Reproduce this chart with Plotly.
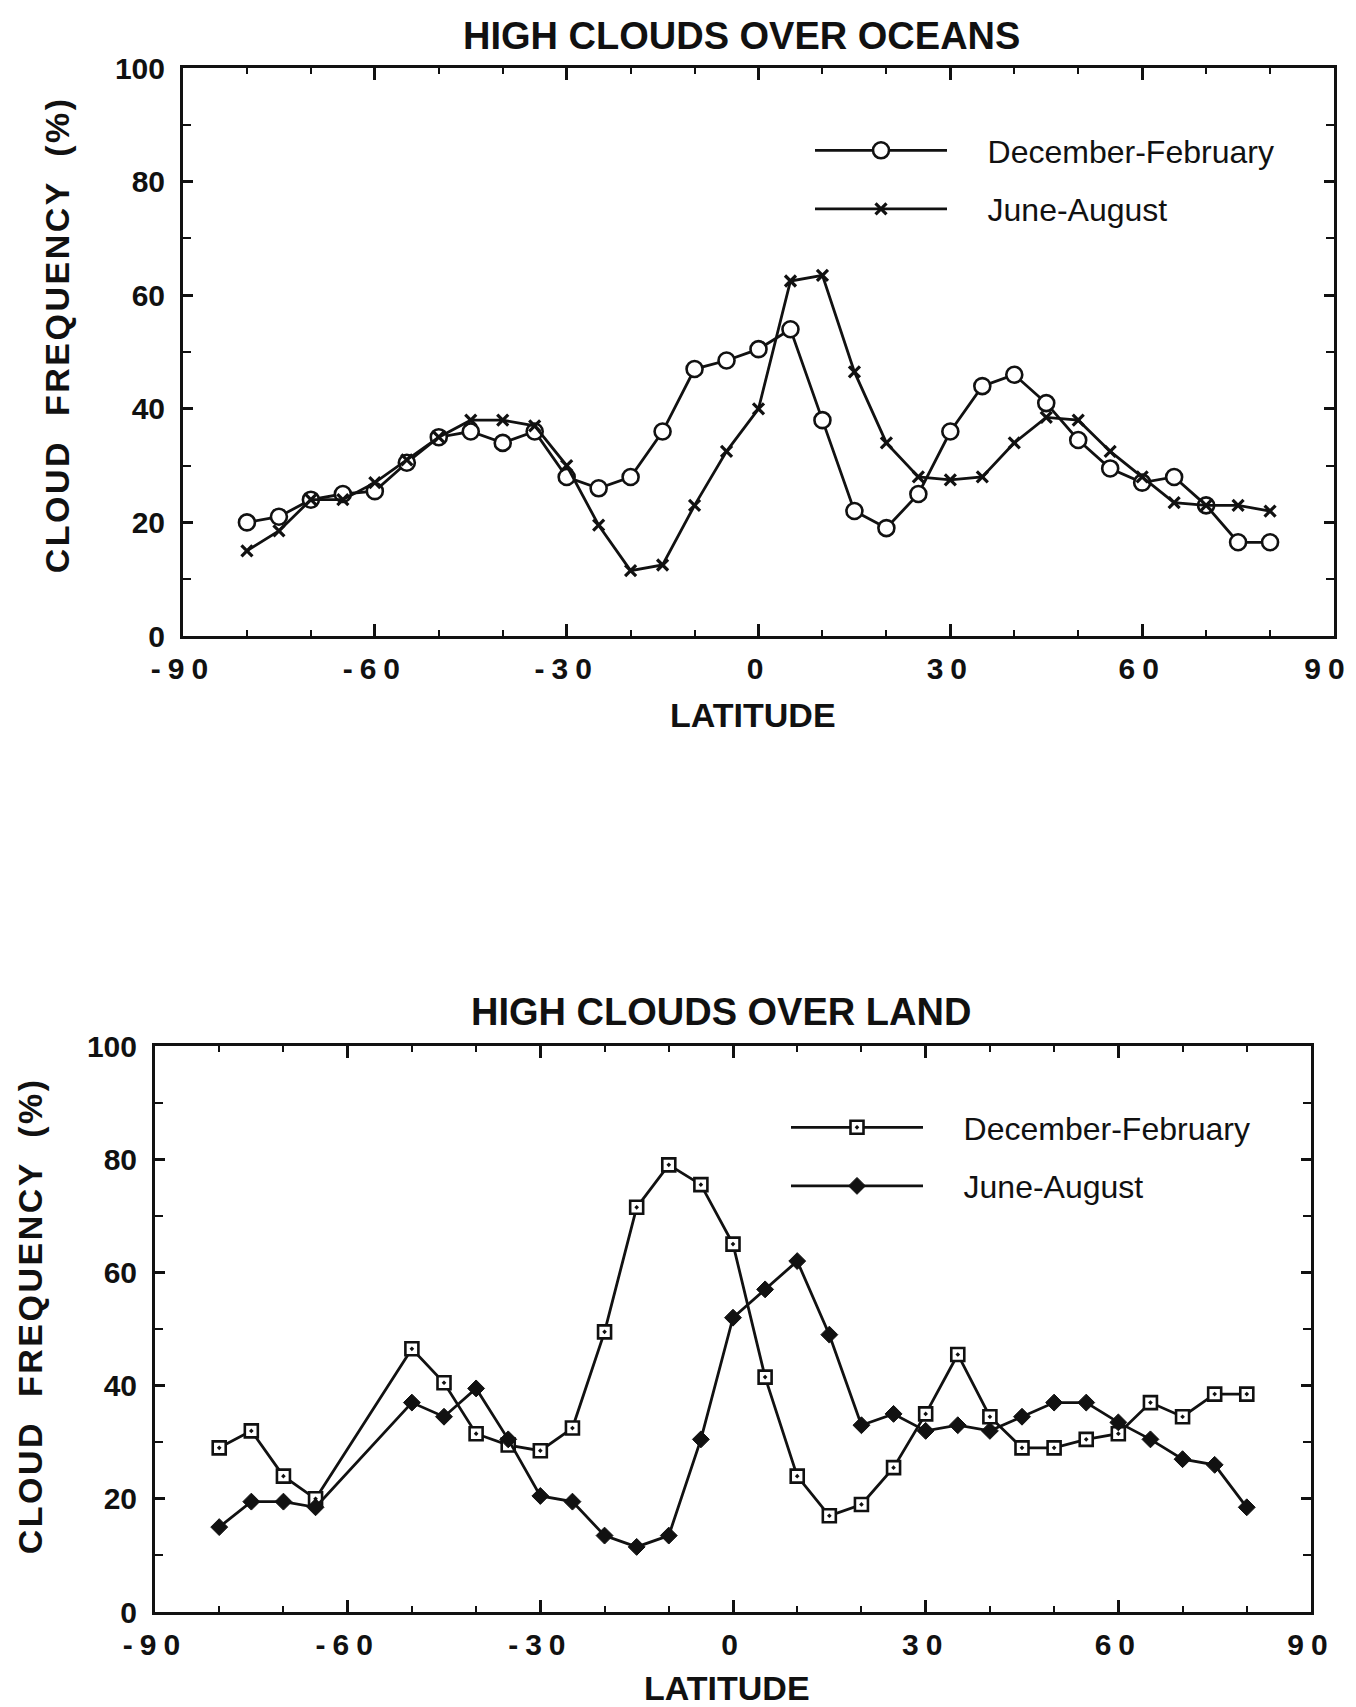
import plotly.graph_objects as go

# Latitude bands (degrees)
lat_ocean = [-80, -75, -70, -65, -60, -55, -50, -45, -40, -35, -30, -25, -20, -15, -10, -5,
             0, 5, 10, 15, 20, 25, 30, 35, 40, 45, 50, 55, 60, 65, 70, 75, 80]
lat_land = [-80, -75, -70, -65, -50, -45, -40, -35, -30, -25, -20, -15, -10, -5,
            0, 5, 10, 15, 20, 25, 30, 35, 40, 45, 50, 55, 60, 65, 70, 75, 80]

# High cloud frequency (%) over oceans
ocean_djf = [20, 21, 24, 25, 25.5, 30.5, 35, 36, 34, 36, 28, 26, 28, 36, 47, 48.5,
             50.5, 54, 38, 22, 19, 25, 36, 44, 46, 41, 34.5, 29.5, 27, 28, 23, 16.5, 16.5]
ocean_jja = [15, 18.5, 24, 24, 27, 31, 35, 38, 38, 37, 30, 19.5, 11.5, 12.5, 23, 32.5,
             40, 62.5, 63.5, 46.5, 34, 28, 27.5, 28, 34, 38.5, 38, 32.5, 28, 23.5, 23, 23, 22]

# High cloud frequency (%) over land
land_djf = [29, 32, 24, 20, 46.5, 40.5, 31.5, 29.5, 28.5, 32.5, 49.5, 71.5, 79, 75.5,
            65, 41.5, 24, 17, 19, 25.5, 35, 45.5, 34.5, 29, 29, 30.5, 31.5, 37, 34.5, 38.5, 38.5]
land_jja = [15, 19.5, 19.5, 18.5, 37, 34.5, 39.5, 30.5, 20.5, 19.5, 13.5, 11.5, 13.5, 30.5,
            52, 57, 62, 49, 33, 35, 32, 33, 32, 34.5, 37, 37, 33.5, 30.5, 27, 26, 18.5]

season_names = ["December-February", "June-August"]
x_ticks = [-90, -60, -30, 0, 30, 60, 90]
x_tick_text = ["-90", "-60", "-30", "0", "30", "60", "90"]
y_ticks = [0, 20, 40, 60, 80, 100]

W, H = 1356, 1707
INK = "#111111"
FONT = "Liberation Sans, Arial, Helvetica, sans-serif"


def px(x):
    return x / W


def py(y):
    return 1 - y / H


# legend labels sit a little away from their sample lines
LEGEND_PAD = "\u00a0" * 4

line_style = dict(color=INK, width=2.8)

fig = go.Figure()

# Oceans panel
fig.add_trace(go.Scatter(
    x=lat_ocean, y=ocean_djf, name=LEGEND_PAD + season_names[0], mode="lines+markers",
    line=line_style, legend="legend", legendgroup="o1",
    marker=dict(symbol="circle", size=16, color="white", line=dict(color=INK, width=2.6)),
    xaxis="x", yaxis="y"))
fig.add_trace(go.Scatter(
    x=lat_ocean, y=ocean_jja, name=LEGEND_PAD + season_names[1], mode="lines+markers",
    line=line_style, legend="legend", legendgroup="o2",
    marker=dict(symbol="x-thin", size=11, color=INK, line=dict(color=INK, width=3.2)),
    xaxis="x", yaxis="y"))

# Land panel
fig.add_trace(go.Scatter(
    x=lat_land, y=land_djf, name=LEGEND_PAD + season_names[0], mode="lines+markers",
    line=line_style, legend="legend2", legendgroup="l1",
    marker=dict(symbol="square-dot", size=13, color="white", line=dict(color=INK, width=2.6)),
    xaxis="x2", yaxis="y2"))
fig.add_trace(go.Scatter(
    x=lat_land, y=land_jja, name=LEGEND_PAD + season_names[1], mode="lines+markers",
    line=line_style, legend="legend2", legendgroup="l2",
    marker=dict(symbol="diamond", size=13, color=INK, line=dict(color=INK, width=1)),
    xaxis="x2", yaxis="y2"))

tick_font = dict(family=FONT, size=30, color=INK, weight="bold")

xaxis_common = dict(
    range=[-90, 90], tickvals=x_ticks, ticktext=x_tick_text, ticks="inside", ticklen=12,
    tickwidth=2.5, tickcolor=INK, showline=True, linecolor=INK, linewidth=3, mirror="ticks",
    showgrid=False, zeroline=False, tickfont=tick_font, ticklabelstandoff=4,
    minor=dict(dtick=10, tick0=0, ticks="inside", ticklen=6, tickwidth=2, tickcolor=INK),
    automargin=False, fixedrange=True)
yaxis_common = dict(
    range=[0, 100], tickvals=y_ticks, ticks="inside", ticklen=10, tickwidth=2.5,
    tickcolor=INK, showline=True, linecolor=INK, linewidth=3, mirror="ticks",
    showgrid=False, zeroline=False, tickfont=tick_font, ticklabelstandoff=9,
    minor=dict(dtick=10, tick0=0, ticks="inside", ticklen=8, tickwidth=2, tickcolor=INK),
    automargin=False, fixedrange=True)

legend_common = dict(
    font=dict(family=FONT, size=32, color=INK), itemwidth=132, bgcolor="rgba(0,0,0,0)",
    borderwidth=0, xanchor="left", yanchor="top", traceorder="grouped", tracegroupgap=14,
    itemclick=False, itemdoubleclick=False)

fig.update_layout(
    width=W, height=H,
    margin=dict(l=0, r=0, t=0, b=0),
    paper_bgcolor="white", plot_bgcolor="white",
    xaxis=dict(domain=[px(183), px(1334)], anchor="y", **xaxis_common),
    yaxis=dict(domain=[py(636), py(68)], anchor="x", **yaxis_common),
    xaxis2=dict(domain=[px(155), px(1311)], anchor="y2", **xaxis_common),
    yaxis2=dict(domain=[py(1612), py(1046)], anchor="x2", **yaxis_common),
    legend=dict(x=px(810), y=py(123), **legend_common),
    legend2=dict(x=px(786), y=py(1100), **legend_common),
    showlegend=True,
)

title_font = dict(family=FONT, size=38, color=INK, weight="bold")
label_font = dict(family=FONT, size=34, color=INK, weight="bold")

annotations = [
    dict(text="HIGH CLOUDS OVER OCEANS", x=px(741), y=py(36), font=title_font),
    dict(text="HIGH CLOUDS OVER LAND", x=px(721), y=py(1012), font=title_font),
    dict(text="LATITUDE", x=px(753), y=py(715), font=label_font),
    dict(text="LATITUDE", x=px(727), y=py(1688), font=label_font),
    dict(text="CLOUD  FREQUENCY  (%)", x=px(57), y=py(335), font=label_font, textangle=-90),
    dict(text="CLOUD  FREQUENCY  (%)", x=px(30), y=py(1316), font=label_font, textangle=-90),
]
for a in annotations:
    fig.add_annotation(xref="paper", yref="paper", xanchor="center", yanchor="middle",
                       showarrow=False, **a)

# Latitude tick labels and the vertical axis titles are set with wide tracking;
# the last label of the upper panel is nudged inward so it stays on the page.
post = """
var gd = document.getElementById('{plot_id}');
function spreadText() {
  gd.querySelectorAll('g.xtick text, g.x2tick text').forEach(function (t) {
    t.style.letterSpacing = '7px';
  });
  gd.querySelectorAll('g.xtick text').forEach(function (t) {
    if (t.textContent === '90') { t.setAttribute('dx', '-6'); }
  });
  gd.querySelectorAll('g.annotation text').forEach(function (t) {
    if (t.textContent.indexOf('CLOUD') === 0) { t.style.letterSpacing = '2.5px'; }
  });
}
spreadText();
gd.on('plotly_afterplot', spreadText);
"""

fig.write_html("out.html", post_script=post, config={"displayModeBar": False})
